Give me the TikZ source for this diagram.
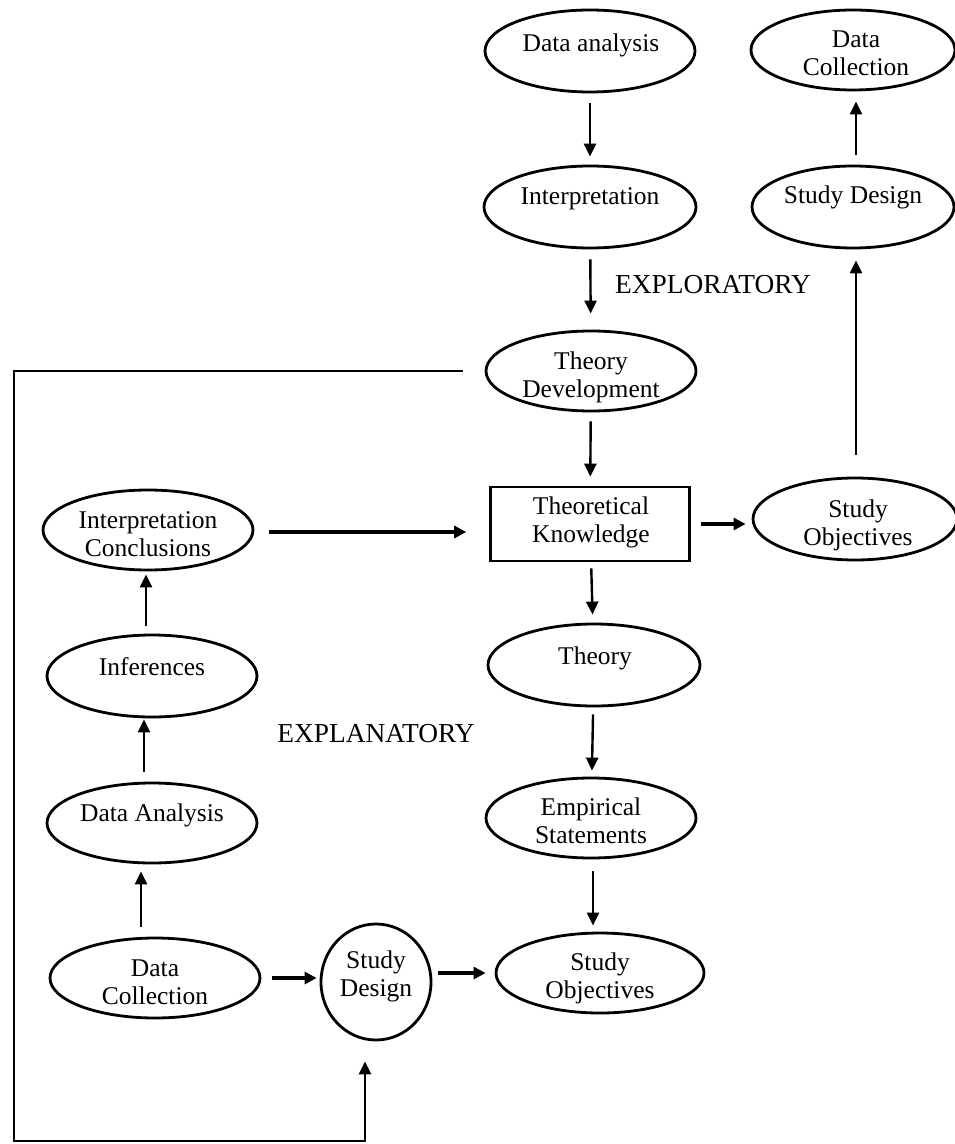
\documentclass[tikz,border=0pt]{standalone}
\usepackage{fontspec}
\setmainfont{Liberation Serif}
\usetikzlibrary{shapes.geometric,arrows.meta}
\begin{document}
\begin{tikzpicture}[x=0.5pt,y=-0.5pt,
 oval/.style={ellipse,draw,line width=1.4pt,inner sep=0pt},
 box/.style={rectangle,draw,line width=1.3pt,inner sep=0pt},
 txt/.style={font=\fontsize{12.75}{14}\selectfont,inner sep=0pt,align=center,anchor=base},
 lbl/.style={font=\fontsize{13.7}{15}\selectfont,inner sep=0pt,anchor=base},
 arr/.style={-{Triangle[length=6.5pt,width=6pt]},line width=1.2pt},
 harr/.style={-{Triangle[length=6pt,width=6pt]},line width=1.7pt},
 fbline/.style={-{Triangle[length=6.5pt,width=6pt]},line width=1.4pt},
]
\useasboundingbox (0,0) rectangle (954,1144);

% exploratory branch
\node[oval,minimum width=105pt,minimum height=41pt] (da1) at (590,51) {};
\node[txt] (tda1) at (591,52) {Data analysis};
\node[oval,minimum width=102pt,minimum height=40pt] (dc1) at (853,50) {};
\node[txt] (tdc1) at (856,76) {Data\\Collection};
\node[oval,minimum width=106pt,minimum height=41pt] (int1) at (590,207) {};
\node[txt] (tint1) at (590,205) {Interpretation};
\node[oval,minimum width=101pt,minimum height=41pt] (sd1) at (853,207) {};
\node[txt] (tsd1) at (853,204) {Study Design};
\node[oval,minimum width=105pt,minimum height=40pt] (td) at (591,371) {};
\node[txt] (ttd) at (591,397) {Theory\\Development};
\node[box,minimum width=99.5pt,minimum height=37pt] (tk) at (590,524) {};
\node[txt] (ttk) at (591,542) {Theoretical\\Knowledge};
\node[oval,minimum width=102pt,minimum height=41pt] (sor) at (855,519) {};
\node[txt] (tsor) at (858,545) {Study\\Objectives};

% explanatory branch
\node[oval,minimum width=105pt,minimum height=40pt] (ic) at (148,530) {};
\node[txt] (tic) at (148,556) {Interpretation\\Conclusions};
\node[oval,minimum width=106pt,minimum height=41pt] (th) at (594,665) {};
\node[txt] (tth) at (595,664) {Theory};
\node[oval,minimum width=105pt,minimum height=41pt] (inf) at (152,676) {};
\node[txt] (tinf) at (152,675) {Inferences};
\node[oval,minimum width=105pt,minimum height=40pt] (dab) at (152,823) {};
\node[txt] (tdab) at (152,821) {Data Analysis};
\node[oval,minimum width=105pt,minimum height=40pt] (es) at (591,818) {};
\node[txt] (tes) at (591,843) {Empirical\\Statements};
\node[oval,minimum width=105pt,minimum height=40pt] (dcb) at (155,978) {};
\node[txt] (tdcb) at (155,1004) {Data\\Collection};
\node[oval,minimum width=55pt,minimum height=58pt] (sdc) at (376,982) {};
\node[txt] (tsdc) at (376,996) {Study\\Design};
\node[oval,minimum width=104pt,minimum height=40pt] (sob) at (600,973) {};
\node[txt] (tsob) at (600,998) {Study\\Objectives};

\node[lbl] (lexp) at (713,293) {EXPLORATORY};
\node[lbl] (lexa) at (376,742) {EXPLANATORY};

% connectors
\draw[arr,shorten <=5pt,shorten >=4pt] (da1) -- (int1);
\draw[arr,shorten <=5pt,shorten >=8pt] (int1) -- (td);
\draw[arr,shorten <=4.5pt,shorten >=4.5pt] (td) -- (tk);
\draw[arr,shorten <=3pt,shorten >=4pt] (tk) -- (th);
\draw[arr,shorten <=3.5pt,shorten >=3pt] (th) -- (es);
\draw[arr,shorten <=6pt,shorten >=3pt] ([xshift=1pt]es.south) -- ([xshift=1pt]es.south |- sob.north);
\draw[arr,shorten <=5pt,shorten >=5pt] ([xshift=1.5pt]sd1.north) -- ([xshift=1.5pt]sd1.north |- dc1.south);
\draw[arr,shorten <=11pt,shorten >=5.5pt] ([xshift=0.5pt]sor.north) -- ([xshift=0.5pt]sor.north |- sd1.south);
\draw[arr,shorten <=5pt,shorten >=3.5pt] ([xshift=-7pt]dcb.north) -- ([xshift=-7pt]dcb.north |- dab.south);
\draw[arr,shorten <=5pt,shorten >=0.5pt] ([xshift=-4pt]dab.north) -- ([xshift=-4pt]dab.north |- inf.south);
\draw[arr,shorten <=4pt,shorten >=1.5pt] ([xshift=-3pt]inf.north) -- ([xshift=-3pt]inf.north |- ic.south);
\draw[harr,shorten <=7.5pt,shorten >=11.5pt] ([yshift=-1pt]ic.east) -- ([yshift=-1pt]ic.east -| tk.west);
\draw[harr,shorten <=5pt,shorten >=3pt] (tk.east) -- (tk.east -| sor.west);
\draw[harr,shorten <=5.5pt,shorten >=1.5pt] (dcb.east) -- (dcb.east -| sdc.west);
\draw[harr,shorten <=3pt,shorten >=4.5pt] (sob.west -| sdc.east) -- (sob.west);

% feedback line
\coordinate (fa) at (14,371);
\coordinate (fb) at (14,1141);
\draw[fbline,shorten <=11pt,shorten >=10pt] (td.west) -- (fa) -- (fb) -| ([xshift=-5.5pt]sdc.south);
\end{tikzpicture}
\end{document}
